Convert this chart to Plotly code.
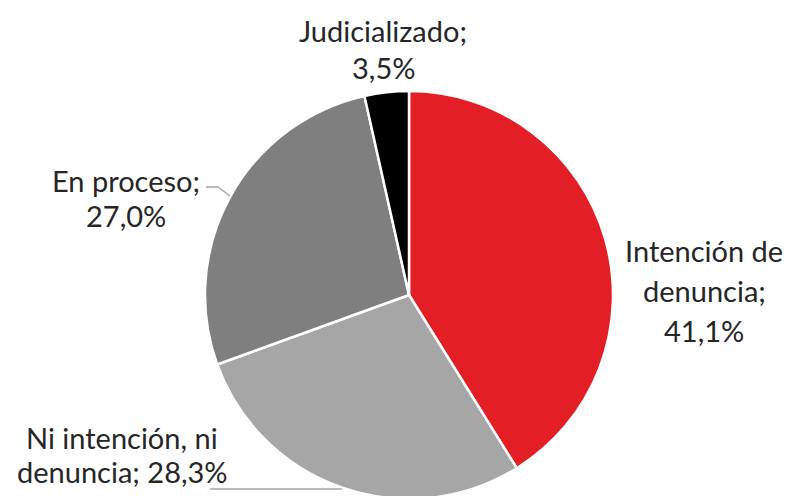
import plotly.graph_objects as go

categories = ["Intención de denuncia", "Ni intención, ni denuncia", "En proceso", "Judicializado"]
values = [41.1, 28.3, 27.0, 3.5]
colors = ["#E31E24", "#A6A6A6", "#7F7F7F", "#000000"]

# label lines (as in the reference's wrapped labels)
label_lines = [
    ["Intención de", "denuncia;", "{v}"],
    ["Ni intención, ni", "denuncia; {v}"],
    ["En proceso;", "{v}"],
    ["Judicializado;", "{v}"],
]
# label anchor positions in pixels (center x, list of line center y)
label_pos = [
    (704, [250, 290, 330]),
    (122, [437, 471]),
    (126, [180, 216]),
    (383, [30, 67]),
]

W, H = 788, 500  # slightly taller than the 496 view so the pie bottom is clipped as in the reference
CX, CY, R = 409, 295, 204

def fmt(v):
    return f"{v:.1f}".replace(".", ",") + "%"

fig = go.Figure(go.Pie(
    labels=categories,
    values=values,
    sort=False,
    direction="clockwise",
    rotation=0,
    marker=dict(colors=colors, line=dict(color="white", width=2.5)),
    textinfo="none",
    hoverinfo="label+percent",
    showlegend=False,
    domain=dict(x=[(CX - R) / W, (CX + R) / W],
                y=[(H - CY - R) / H, (H - CY + R) / H]),
))

annotations = []
for lines, (cx, ys), v in zip(label_lines, label_pos, values):
    for line, y in zip(lines, ys):
        annotations.append(dict(
            x=cx / W, y=1 - y / H, xref="paper", yref="paper",
            text=line.replace("{v}", fmt(v)), showarrow=False,
            xanchor="center", yanchor="middle",
            font=dict(family="Lato", size=29, color="#262626"),
        ))

line_col = "#A6A6A6"
shapes = [
    dict(type="path", xref="paper", yref="paper",
         path=f"M {206/W},{1-187/H} L {218/W},{1-187/H} L {230/W},{1-196/H}",
         line=dict(color=line_col, width=1.5)),
    dict(type="line", xref="paper", yref="paper",
         x0=210 / W, y0=1 - 489 / H, x1=342 / W, y1=1 - 489 / H,
         line=dict(color=line_col, width=1.5)),
]

fig.update_layout(
    width=W, height=H,
    margin=dict(l=0, r=0, t=0, b=0),
    paper_bgcolor="white", plot_bgcolor="white",
    annotations=annotations, shapes=shapes,
)

fig.write_html("out.html", config={"displayModeBar": False},
               post_script="document.body.style.margin='0';document.body.style.overflow='hidden';")
